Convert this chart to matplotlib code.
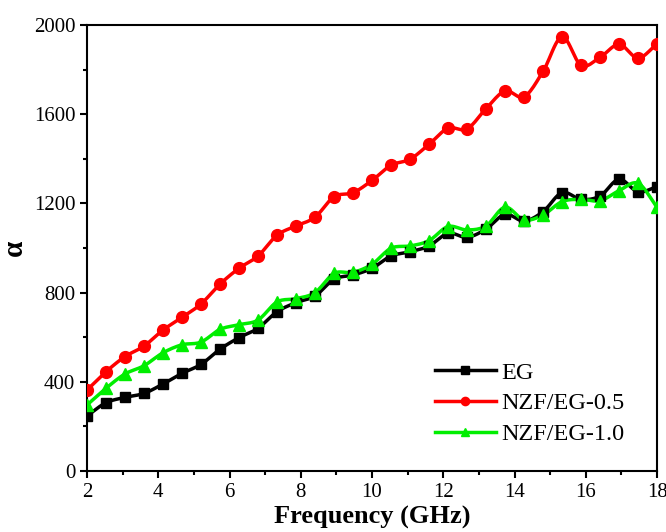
import numpy as np
import matplotlib.pyplot as plt
from matplotlib.ticker import MultipleLocator

freq = np.linspace(2, 18, 31)

alpha_eg = [247, 306, 330, 348, 390, 438, 478, 546, 598, 640, 714, 755, 785,
            860, 879, 909, 964, 983, 1009, 1066, 1048, 1085, 1151, 1121, 1163,
            1248, 1218, 1233, 1308, 1252, 1275]
alpha_05 = [363, 445, 513, 560, 632, 689, 749, 838, 909, 964, 1057, 1099, 1138,
            1230, 1248, 1303, 1371, 1398, 1465, 1537, 1534, 1625, 1704, 1678,
            1792, 1947, 1819, 1855, 1913, 1852, 1915]
alpha_10 = [296, 371, 435, 472, 530, 566, 578, 635, 656, 677, 758, 773, 800,
            886, 891, 927, 999, 1009, 1033, 1096, 1081, 1099, 1183, 1126, 1148,
            1208, 1218, 1212, 1257, 1290, 1183]

labels = ["EG", "NZF/EG-0.5", "NZF/EG-1.0"]
colors = ["black", "#ff0000", "#00ee00"]
markers = ["s", "o", "^"]
sizes = [7.5, 8.5, 9]


def smooth(x, y, n=12):
    # Catmull-Rom curve through the points for the connecting line
    x = np.asarray(x, float)
    y = np.asarray(y, float)
    px = np.concatenate([[2 * x[0] - x[1]], x, [2 * x[-1] - x[-2]]])
    py = np.concatenate([[2 * y[0] - y[1]], y, [2 * y[-1] - y[-2]]])
    t = np.linspace(0, 1, n, endpoint=False)
    xs, ys = [], []
    for i in range(1, len(px) - 2):
        for p, out in ((px, xs), (py, ys)):
            p0, p1, p2, p3 = p[i - 1], p[i], p[i + 1], p[i + 2]
            out.extend(0.5 * (2 * p1 + (-p0 + p2) * t
                              + (2 * p0 - 5 * p1 + 4 * p2 - p3) * t ** 2
                              + (-p0 + 3 * p1 - 3 * p2 + p3) * t ** 3))
    xs.append(x[-1])
    ys.append(y[-1])
    return np.array(xs), np.array(ys)


plt.rcParams.update({
    "font.family": "Liberation Serif",
    "axes.linewidth": 1.5,
    "xtick.major.width": 1.5,
    "ytick.major.width": 1.5,
    "xtick.minor.width": 1.5,
    "ytick.minor.width": 1.5,
    "font.size": 15,
})

fig = plt.figure(figsize=(6.66, 5.32), dpi=100)
ax = fig.add_axes([0.1306, 0.1147, 0.856, 0.8383])

for y, lab, c, m, s in zip([alpha_eg, alpha_05, alpha_10], labels, colors, markers, sizes):
    sx, sy = smooth(freq, y)
    ax.plot(sx, sy, color=c, lw=2.5, zorder=3)
    ax.plot(freq, y, linestyle="none", marker=m, color=c, ms=s, zorder=4)
    ax.plot([], [], color=c, lw=2.5, marker=m, ms=s * 0.7, label=lab)

ax.set_xlim(2, 18)
ax.set_ylim(0, 2000)
ax.xaxis.set_major_locator(MultipleLocator(2))
ax.xaxis.set_minor_locator(MultipleLocator(1))
ax.yaxis.set_major_locator(MultipleLocator(400))
ax.yaxis.set_minor_locator(MultipleLocator(200))
ax.tick_params(which="major", length=5, labelsize=15)
ax.tick_params(which="minor", length=3)

ax.set_xlabel("Frequency (GHz)", fontsize=19, fontweight="bold", labelpad=3)
ax.set_ylabel("α", fontsize=21, fontweight="bold", labelpad=4)

ax.legend(loc="upper left", bbox_to_anchor=(0.61, 0.245), frameon=False,
          fontsize=17.5, handlelength=2.5, handletextpad=0.25,
          borderaxespad=0, borderpad=0, labelspacing=0.36)

plt.savefig("out.png", dpi=100)
